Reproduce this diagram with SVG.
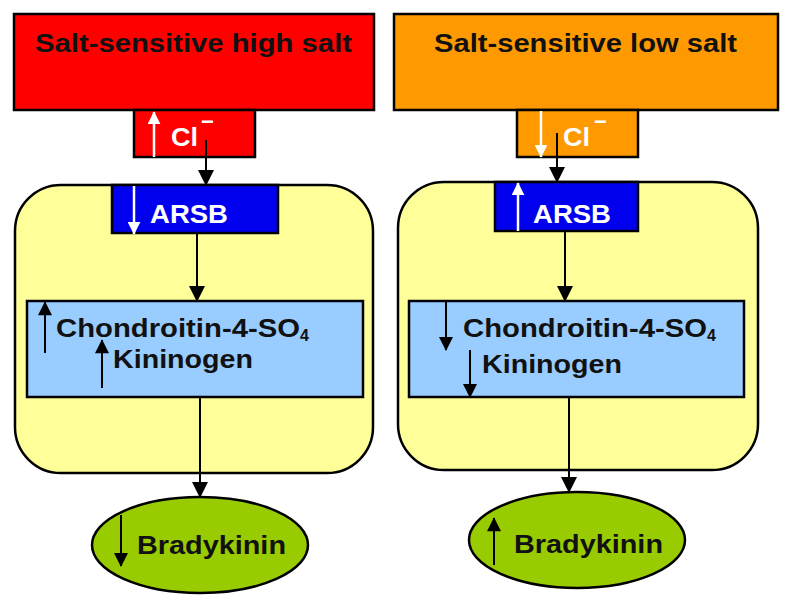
<svg xmlns="http://www.w3.org/2000/svg" width="792" height="608" viewBox="0 0 792 608">
<defs>
<style>
.box{stroke:#000;stroke-width:2.5}
.t{font-family:"Liberation Sans",Arial,sans-serif;font-weight:bold;fill:#111}
.w{fill:#fff}
.ln{stroke:#000;stroke-width:2;fill:none}
.wl{stroke:#fff;stroke-width:2.5;fill:none}
</style>
<marker id="ah" viewBox="0 0 16 16" refX="15" refY="8" markerWidth="16" markerHeight="16" markerUnits="userSpaceOnUse" orient="auto"><path d="M0,0 L16,8 L0,16 z" fill="#000"/></marker>
<marker id="ahs" viewBox="0 0 16 16" refX="15" refY="8" markerWidth="15" markerHeight="14" markerUnits="userSpaceOnUse" orient="auto"><path d="M0,0 L16,8 L0,16 z" fill="#000"/></marker>
<marker id="aw" viewBox="0 0 16 16" refX="15" refY="8" markerWidth="13" markerHeight="13" markerUnits="userSpaceOnUse" orient="auto"><path d="M0,0 L16,8 L0,16 z" fill="#fff"/></marker>
</defs>
<rect width="792" height="608" fill="#fff"/>

<!-- Left panel -->
<g id="high-salt">
<rect class="box" x="14" y="14" width="360" height="96" fill="#ff0000"/>
<text class="t" x="35" y="52" font-size="26" textLength="317" lengthAdjust="spacingAndGlyphs">Salt-sensitive high salt</text>
</g>
<g id="cl-high">
<rect class="box" x="134" y="110" width="121" height="47" fill="#ff0000"/>
<line class="wl" x1="154" y1="157" x2="154" y2="112" marker-end="url(#aw)"/>
<text class="t w" x="171" y="146" font-size="25"><tspan textLength="27" lengthAdjust="spacingAndGlyphs">Cl</tspan><tspan x="201" y="129" font-size="22">−</tspan></text>
</g>
<g id="cell-high">
<rect class="box" x="15" y="185" width="358" height="288" rx="46" ry="46" fill="#ffff99"/>
</g>
<g id="arsb-high">
<rect class="box" x="112" y="185" width="166" height="48" fill="#0000ee"/>
<line class="wl" x1="134" y1="186" x2="134" y2="234" marker-end="url(#aw)"/>
<text class="t w" x="150" y="223" font-size="26" textLength="78" lengthAdjust="spacingAndGlyphs">ARSB</text>
</g>
<g id="chon-high">
<rect class="box" x="27" y="301" width="336" height="96" fill="#99ccff"/>
<line class="ln" x1="45" y1="353" x2="45" y2="302" marker-end="url(#ahs)"/>
<line class="ln" x1="102" y1="388" x2="102" y2="340" marker-end="url(#ahs)"/>
<text class="t" x="56" y="337" font-size="26"><tspan textLength="244" lengthAdjust="spacingAndGlyphs">Chondroitin-4-SO</tspan><tspan font-size="16" dy="4">4</tspan></text>
<text class="t" x="113" y="368" font-size="26" textLength="140" lengthAdjust="spacingAndGlyphs">Kininogen</text>
</g>
<g id="brady-high">
<ellipse class="box" cx="200" cy="545" rx="108" ry="48" fill="#99cc00"/>
<line class="ln" x1="121" y1="515" x2="121" y2="566" marker-end="url(#ahs)"/>
<text class="t" x="137" y="554" font-size="26" textLength="149" lengthAdjust="spacingAndGlyphs">Bradykinin</text>
</g>

<!-- Right panel -->
<g id="low-salt">
<rect class="box" x="394" y="14" width="384" height="96" fill="#ff9900"/>
<text class="t" x="434" y="52" font-size="26" textLength="303" lengthAdjust="spacingAndGlyphs">Salt-sensitive low salt</text>
</g>
<g id="cl-low">
<rect class="box" x="517" y="110" width="121" height="47" fill="#ff9900"/>
<line class="wl" x1="541" y1="111" x2="541" y2="157" marker-end="url(#aw)"/>
<text class="t w" x="563" y="146" font-size="25"><tspan textLength="27" lengthAdjust="spacingAndGlyphs">Cl</tspan><tspan x="594" y="129" font-size="22">−</tspan></text>
</g>
<g id="cell-low">
<rect class="box" x="398" y="182" width="360" height="288" rx="46" ry="46" fill="#ffff99"/>
</g>
<g id="arsb-low">
<rect class="box" x="495" y="182" width="143" height="49" fill="#0000ee"/>
<line class="wl" x1="518" y1="231" x2="518" y2="183" marker-end="url(#aw)"/>
<text class="t w" x="533" y="223" font-size="26" textLength="78" lengthAdjust="spacingAndGlyphs">ARSB</text>
</g>
<g id="chon-low">
<rect class="box" x="409" y="301" width="335" height="96" fill="#99ccff"/>
<line class="ln" x1="446" y1="302" x2="446" y2="350" marker-end="url(#ahs)"/>
<line class="ln" x1="470" y1="350" x2="470" y2="397" marker-end="url(#ahs)"/>
<text class="t" x="463" y="337" font-size="26"><tspan textLength="244" lengthAdjust="spacingAndGlyphs">Chondroitin-4-SO</tspan><tspan font-size="16" dy="4">4</tspan></text>
<text class="t" x="482" y="373" font-size="26" textLength="140" lengthAdjust="spacingAndGlyphs">Kininogen</text>
</g>
<g id="brady-low">
<ellipse class="box" cx="577" cy="540" rx="108" ry="48" fill="#99cc00"/>
<line class="ln" x1="494" y1="565" x2="494" y2="518" marker-end="url(#ahs)"/>
<text class="t" x="514" y="553" font-size="26" textLength="149" lengthAdjust="spacingAndGlyphs">Bradykinin</text>
</g>

<g id="connectors">
<line class="ln" x1="206" y1="140" x2="206" y2="185" marker-end="url(#ah)"/>
<line class="ln" x1="197" y1="233" x2="197" y2="301" marker-end="url(#ah)"/>
<line class="ln" x1="200" y1="397" x2="200" y2="497" marker-end="url(#ah)"/>
<line class="ln" x1="557" y1="133" x2="557" y2="182" marker-end="url(#ah)"/>
<line class="ln" x1="565" y1="231" x2="565" y2="301" marker-end="url(#ah)"/>
<line class="ln" x1="569" y1="397" x2="569" y2="492" marker-end="url(#ah)"/>
</g>
</svg>
